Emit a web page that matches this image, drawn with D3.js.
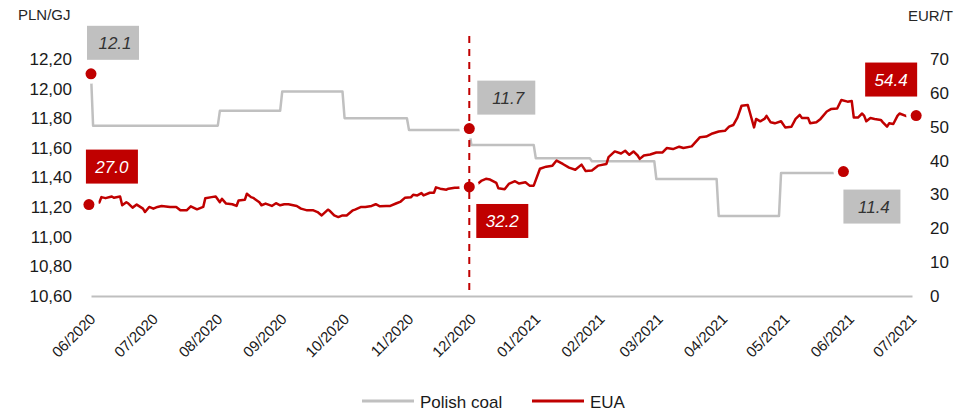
<!DOCTYPE html>
<html lang="en">
<head>
<meta charset="UTF-8">
<title>Polish coal vs EUA</title>
<script src="https://cdn.jsdelivr.net/npm/d3@7/dist/d3.min.js"></script>
<style>
  body { margin: 0; background: #fff; }
  text { font-family: "Liberation Sans", Arial, sans-serif; }
</style>
</head>
<body>
<div id="container"></div>
<script>
// EUA price, EUR/t (right axis)
const euaData = [
  ["2020-05-31",27.0],["2020-06-05",27.6],["2020-06-06",29.2],["2020-06-08",28.9],["2020-06-11",29.4],
  ["2020-06-12",29.0],["2020-06-15",29.4],["2020-06-16",26.8],["2020-06-18",27.7],["2020-06-19",27.3],
  ["2020-06-21",26.1],["2020-06-23",27.0],["2020-06-26",25.8],["2020-06-27",24.8],["2020-06-29",26.3],
  ["2020-07-01",25.8],["2020-07-03",26.3],["2020-07-05",26.6],["2020-07-09",26.3],["2020-07-12",26.3],
  ["2020-07-14",25.3],["2020-07-17",25.3],["2020-07-19",26.5],["2020-07-22",25.6],["2020-07-25",26.3],
  ["2020-07-26",28.9],["2020-07-29",29.2],["2020-07-31",29.4],["2020-08-02",27.7],["2020-08-03",28.7],
  ["2020-08-05",27.3],["2020-08-08",27.1],["2020-08-10",26.6],["2020-08-11",28.2],["2020-08-14",28.4],
  ["2020-08-15",30.2],["2020-08-17",29.2],["2020-08-18",29.0],["2020-08-21",27.7],["2020-08-22",26.8],
  ["2020-08-24",27.3],["2020-08-27",26.6],["2020-08-29",27.4],["2020-08-31",26.8],["2020-09-02",27.1],
  ["2020-09-04",27.1],["2020-09-08",26.6],["2020-09-10",25.8],["2020-09-13",25.3],["2020-09-16",25.3],
  ["2020-09-18",24.8],["2020-09-20",23.8],["2020-09-23",25.5],["2020-09-24",25.1],["2020-09-26",23.8],
  ["2020-09-28",23.3],["2020-09-30",23.8],["2020-10-02",23.8],["2020-10-05",25.3],["2020-10-06",25.5],
  ["2020-10-09",26.3],["2020-10-11",26.3],["2020-10-14",26.6],["2020-10-16",27.1],["2020-10-18",26.5],
  ["2020-10-21",26.6],["2020-10-23",26.6],["2020-10-26",27.4],["2020-10-28",27.9],["2020-10-30",29.0],
  ["2020-11-02",29.2],["2020-11-03",29.9],["2020-11-05",29.7],["2020-11-07",30.4],["2020-11-08",29.7],
  ["2020-11-11",30.5],["2020-11-13",30.5],["2020-11-14",32.1],["2020-11-16",31.7],["2020-11-19",31.4],
  ["2020-11-20",31.7],["2020-11-23",32.0],["2020-11-24",32.0],["2020-11-30",32.2],["2020-12-04",33.1],
  ["2020-12-06",34.1],["2020-12-08",34.6],["2020-12-10",34.4],["2020-12-13",33.4],["2020-12-14",31.8],
  ["2020-12-17",31.5],["2020-12-19",33.1],["2020-12-22",33.9],["2020-12-24",33.2],["2020-12-27",33.6],
  ["2020-12-29",32.6],["2020-12-31",32.6],["2021-01-03",37.6],["2021-01-06",38.2],["2021-01-09",38.5],
  ["2021-01-11",40.0],["2021-01-14",39.0],["2021-01-17",37.9],["2021-01-20",37.3],["2021-01-23",38.8],
  ["2021-01-25",36.9],["2021-01-28",37.1],["2021-01-30",38.0],["2021-01-31",38.5],["2021-02-04",39.0],
  ["2021-02-05",41.0],["2021-02-08",42.7],["2021-02-11",42.1],["2021-02-13",42.9],["2021-02-15",41.7],
  ["2021-02-17",42.7],["2021-02-19",41.5],["2021-02-20",40.5],["2021-02-22",41.5],["2021-02-25",41.8],
  ["2021-02-28",42.4],["2021-03-03",42.4],["2021-03-05",43.7],["2021-03-08",43.4],["2021-03-11",44.1],
  ["2021-03-13",43.7],["2021-03-17",44.2],["2021-03-21",46.9],["2021-03-24",47.1],["2021-03-27",48.0],
  ["2021-03-30",48.6],["2021-04-02",48.8],["2021-04-04",50.0],["2021-04-06",50.5],["2021-04-08",52.7],
  ["2021-04-10",56.2],["2021-04-13",56.4],["2021-04-14",54.2],["2021-04-16",49.8],["2021-04-17",52.3],
  ["2021-04-19",51.6],["2021-04-21",52.3],["2021-04-22",53.2],["2021-04-24",51.3],["2021-04-26",51.0],
  ["2021-04-29",51.6],["2021-05-01",49.8],["2021-05-04",50.0],["2021-05-06",52.3],["2021-05-08",53.5],
  ["2021-05-09",52.6],["2021-05-12",52.6],["2021-05-13",51.0],["2021-05-16",51.3],["2021-05-18",52.3],
  ["2021-05-21",54.5],["2021-05-23",55.2],["2021-05-26",55.4],["2021-05-28",57.9],["2021-05-31",57.4],
  ["2021-06-02",57.6],["2021-06-03",52.7],["2021-06-05",52.7],["2021-06-07",53.9],["2021-06-08",53.2],
  ["2021-06-09",51.6],["2021-06-11",52.6],["2021-06-13",52.3],["2021-06-16",52.0],["2021-06-17",51.3],
  ["2021-06-19",50.0],["2021-06-20",51.0],["2021-06-22",50.8],["2021-06-24",53.2],["2021-06-25",53.9],
  ["2021-06-28",53.2],["2021-07-03",53.3]
];

// Polish coal price, PLN/GJ (left axis) - monthly steps
const coalData = [
  ["2020-06-01",12.10],["2020-06-02",11.75],["2020-08-01",11.75],["2020-08-02",11.85],
  ["2020-08-31",11.85],["2020-09-01",11.98],["2020-09-30",11.98],["2020-10-01",11.80],
  ["2020-10-31",11.80],["2020-11-01",11.72],["2020-11-30",11.72],["2020-12-01",11.62],
  ["2020-12-31",11.62],["2021-01-01",11.53],["2021-01-27",11.53],["2021-01-28",11.51],
  ["2021-02-27",11.51],["2021-02-28",11.39],["2021-03-29",11.39],["2021-03-30",11.14],
  ["2021-04-28",11.14],["2021-04-29",11.43],["2021-05-29",11.43]
];

// highlighted points: date, value, label text
const coalMarkers = [["2020-06-01",12.10,"12.1"],["2020-11-30",11.73,"11.7"],["2021-05-29",11.44,"11.4"]];
const euaMarkers = [["2020-05-31",27.0,"27.0"],["2020-11-30",32.2,"32.2"],["2021-07-03",53.3,"54.4"]];
const markerDate = "2020-11-30";

const leftTicks = [10.6,10.8,11.0,11.2,11.4,11.6,11.8,12.0,12.2];
const rightTicks = [0,10,20,30,40,50,60,70];
const monthTicks = ["2020-06-01","2020-07-01","2020-08-01","2020-09-01","2020-10-01","2020-11-01","2020-12-01",
  "2021-01-01","2021-02-01","2021-03-01","2021-04-01","2021-05-01","2021-06-01","2021-07-01"];
const seriesNames = ["Polish coal","EUA"];

const RED = "#c00000", GREY = "#c0c0c0";
const parse = d3.timeParse("%Y-%m-%d");

let svg = d3.select("#container").append("svg")
  .attr("width", 973).attr("height", 414)
  .style("background-color", "#fff");

let x = d3.scaleTime()
  .domain([parse("2020-06-01"), parse("2021-07-01")])
  .range([91, 912]);
let yL = d3.scaleLinear().domain([10.6, 12.2]).range([296, 59]);
let yR = d3.scaleLinear().domain([0, 70]).range([296, 59]);

let comma = v => d3.format(".2f")(v).replace(".", ",");

// x axis
let xAxis = svg.append("g")
  .attr("transform", "translate(0,296)")
  .call(d3.axisBottom(x).tickValues(monthTicks.map(parse)).tickFormat(d3.timeFormat("%m/%Y")).tickSize(0).tickSizeOuter(0));
xAxis.select(".domain").attr("stroke", "#bfbfbf").attr("stroke-width", 2);
xAxis.selectAll("text")
  .attr("y", 0).attr("dy", 0)
  .attr("transform", "translate(5,24) rotate(-45)")
  .style("text-anchor", "end")
  .style("font-size", "15px")
  .attr("fill", "#1a1a1a");

// left axis
let lAxis = svg.append("g")
  .attr("transform", "translate(91,0)")
  .call(d3.axisLeft(yL).tickValues(leftTicks).tickFormat(comma).tickSize(0).tickPadding(19));
lAxis.select(".domain").remove();
lAxis.selectAll("text").style("font-size", "17px").attr("fill", "#1a1a1a");

// right axis
let rAxis = svg.append("g")
  .attr("transform", "translate(912,0)")
  .call(d3.axisRight(yR).tickValues(rightTicks).tickSize(0).tickPadding(18));
rAxis.select(".domain").remove();
rAxis.selectAll("text").style("font-size", "17px").attr("fill", "#1a1a1a");

svg.append("text").attr("x", 18).attr("y", 20).text("PLN/GJ")
  .style("font-size", "15px").attr("fill", "#262626");
svg.append("text").attr("x", 908).attr("y", 21).text("EUR/T")
  .style("font-size", "15px").attr("fill", "#262626");

// lines
let coalLine = d3.line().x(d => x(parse(d[0]))).y(d => yL(d[1]));
let euaLine = d3.line().x(d => x(parse(d[0]))).y(d => yR(d[1]));

svg.append("path").datum(coalData)
  .attr("d", coalLine)
  .attr("fill", "none").attr("stroke", GREY).attr("stroke-width", 2.5)
  .attr("stroke-linejoin", "round");
svg.append("path").datum(euaData)
  .attr("d", euaLine)
  .attr("fill", "none").attr("stroke", RED).attr("stroke-width", 2.5)
  .attr("stroke-linejoin", "round");

let points = coalMarkers.map(m => ({cx: x(parse(m[0])), cy: yL(m[1]), label: m[2], kind: "coal"}))
  .concat(euaMarkers.map(m => ({cx: x(parse(m[0])), cy: yR(m[1]), label: m[2], kind: "eua"})));

// white halos around highlighted points
svg.selectAll("circle.halo").data(points).enter().append("circle")
  .attr("class", "halo")
  .attr("cx", d => d.cx).attr("cy", d => d.cy).attr("r", 10)
  .attr("fill", "#fff");

// vertical dashed marker
svg.append("line")
  .attr("x1", x(parse(markerDate))).attr("x2", x(parse(markerDate)))
  .attr("y1", 36).attr("y2", 296)
  .attr("stroke", RED).attr("stroke-width", 2)
  .attr("stroke-dasharray", "7,6");

svg.selectAll("circle.dot").data(points).enter().append("circle")
  .attr("class", "dot")
  .attr("cx", d => d.cx).attr("cy", d => d.cy).attr("r", 5.5)
  .attr("fill", RED);

// label boxes (offset from each point)
const boxOffsets = [
  {dx: -4, dy: -48, w: 52},   // coal start
  {dx: 8, dy: -48, w: 58},    // coal Nov
  {dx: 0, dy: 18, w: 57},     // coal end
  {dx: -3, dy: -55, w: 52},   // eua start
  {dx: 7, dy: 17, w: 52},     // eua Nov
  {dx: -51, dy: -53, w: 52}   // eua end
];
let boxes = svg.selectAll("g.lbl").data(points).enter().append("g")
  .attr("class", "lbl")
  .attr("transform", (d, i) => "translate(" + (d.cx + boxOffsets[i].dx) + "," + (d.cy + boxOffsets[i].dy) + ")");
boxes.append("rect")
  .attr("width", (d, i) => boxOffsets[i].w).attr("height", 34)
  .attr("fill", d => d.kind === "coal" ? GREY : RED);
boxes.append("text")
  .attr("x", (d, i) => boxOffsets[i].w / 2 + (d.kind === "coal" ? 2 : 0)).attr("y", 23)
  .attr("text-anchor", "middle")
  .style("font-size", "17px").style("font-style", "italic")
  .attr("fill", d => d.kind === "coal" ? "#333" : "#fff")
  .text(d => d.label);

// legend
let legend = svg.append("g");
let legendX = [362, 532];
let legendColors = [GREY, RED];
seriesNames.forEach((name, i) => {
  legend.append("line")
    .attr("x1", legendX[i]).attr("x2", legendX[i] + 52)
    .attr("y1", 401).attr("y2", 401)
    .attr("stroke", legendColors[i]).attr("stroke-width", 3);
  legend.append("text")
    .attr("x", legendX[i] + 58).attr("y", 407.5)
    .text(name)
    .style("font-size", "17px").attr("fill", "#1a1a1a");
});
</script>
</body>
</html>
